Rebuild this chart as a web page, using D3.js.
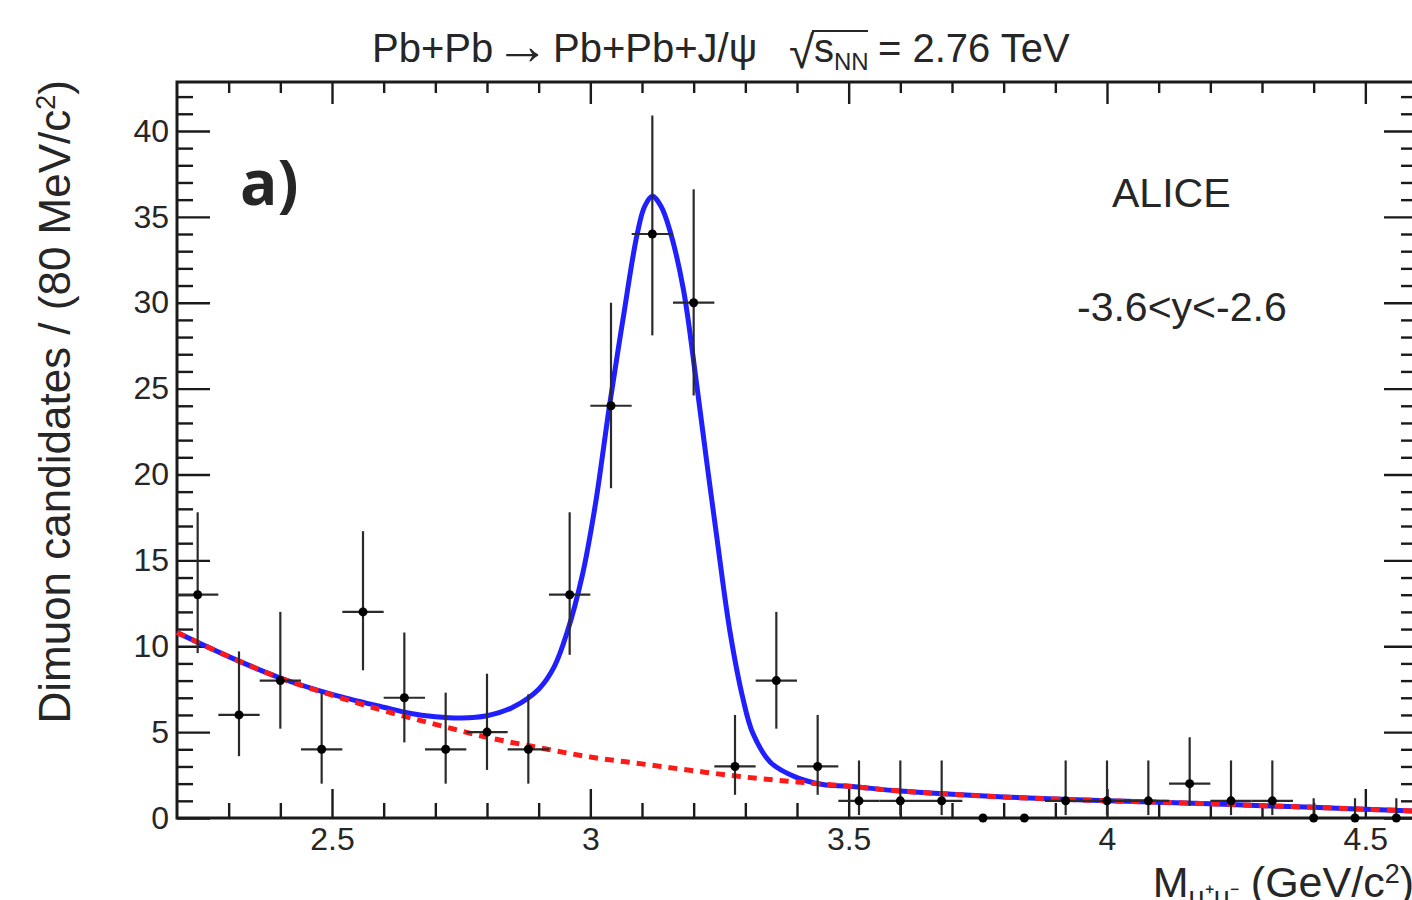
<!DOCTYPE html>
<html>
<head>
<meta charset="utf-8">
<script src="https://cdn.jsdelivr.net/npm/d3@7"></script>
<style>
	body { margin: 0; background: #fff; }
	svg text { font-family: "Liberation Sans", Arial, sans-serif; fill: #262626; }
</style>
</head>
<body>
<svg id="chart" width="1412" height="900"></svg>
<script>
// dimuon invariant mass histogram, 80 MeV bins
const binCenters = [2.24, 2.32, 2.40, 2.48, 2.56, 2.64, 2.72, 2.80, 2.88, 2.96,
                    3.04, 3.12, 3.20, 3.28, 3.36, 3.44, 3.52, 3.60, 3.68, 3.76,
                    3.84, 3.92, 4.00, 4.08, 4.16, 4.24, 4.32, 4.40, 4.48, 4.56];
const counts    = [13, 6, 8, 4, 12, 7, 4, 5, 4, 13,
                   24, 34, 30, 3, 8, 3, 1, 1, 1, 0,
                   0, 1, 1, 1, 2, 1, 1, 0, 0, 0];
const errLow    = [9.6, 3.6, 5.2, 2.0, 8.6, 4.4, 2.0, 2.8, 2.0, 9.5,
                   19.2, 28.1, 24.6, 1.35, 5.2, 1.35, 0.17, 0.17, 0.17, 0,
                   0, 0.17, 0.17, 0.17, 0.7, 0.17, 0.17, 0, 0, 0];
const errHigh   = [17.8, 9.7, 12.0, 7.3, 16.7, 10.8, 7.3, 8.4, 7.2, 17.8,
                   30.0, 40.9, 36.6, 6.0, 12.0, 6.0, 3.35, 3.35, 3.35, 0,
                   0, 3.35, 3.35, 3.35, 4.7, 3.35, 3.35, 1.15, 1.15, 1.15];
const binHalfWidth = 0.04;

// background fit (red dotted)
const bkgMass  = [2.20, 2.30, 2.40, 2.50, 2.60, 2.70, 2.80, 2.90, 3.00, 3.10, 3.20, 3.30, 3.40,
                  3.50, 3.60, 3.70, 3.80, 3.90, 4.00, 4.10, 4.20, 4.30, 4.40, 4.50, 4.60];
const bkgValue = [10.8, 9.4, 8.15, 7.15, 6.25, 5.45, 4.7, 4.1, 3.55, 3.15, 2.75, 2.38, 2.1,
                  1.85, 1.57, 1.38, 1.22, 1.1, 1.0, 0.92, 0.83, 0.72, 0.62, 0.51, 0.4];

// total fit (blue)
const fitMass  = [2.20, 2.30, 2.40, 2.50, 2.60, 2.65, 2.70, 2.75, 2.80, 2.85, 2.90, 2.93, 2.955,
                  2.985, 3.01, 3.037, 3.063, 3.09, 3.105, 3.12, 3.137, 3.154, 3.18, 3.206, 3.225,
                  3.245, 3.27, 3.295, 3.315, 3.35, 3.40, 3.45, 3.50, 3.60, 3.70, 3.80, 3.90,
                  4.00, 4.10, 4.20, 4.30, 4.40, 4.50, 4.60];
const fitValue = [10.8, 9.4, 8.15, 7.2, 6.45, 6.1, 5.9, 5.82, 5.95, 6.45, 7.5, 8.8, 10.8,
                  14.2, 18.3, 24.0, 29.0, 33.9, 35.6, 36.2, 35.6, 34.2, 30.8, 25.2, 20.8,
                  16.3, 10.9, 7.0, 4.9, 3.2, 2.35, 1.95, 1.85, 1.57, 1.38, 1.22, 1.1,
                  1.0, 0.92, 0.83, 0.72, 0.62, 0.51, 0.4];

const xMajorTicks = [2.5, 3, 3.5, 4, 4.5];
const xMinorTicks = [2.3, 2.4, 2.6, 2.7, 2.8, 2.9, 3.1, 3.2, 3.3, 3.4, 3.6, 3.7, 3.8, 3.9,
                     4.1, 4.2, 4.3, 4.4, 4.6];
const yMajorTicks = [0, 5, 10, 15, 20, 25, 30, 35, 40];
const yMinorTicks = d3.range(1, 43).filter(v => v % 5 !== 0);

const svg = d3.select("#chart");
const frame = { left: 177, right: 1417, top: 82, bottom: 818 };

const xScale = d3.scaleLinear().domain([2.2, 4.6]).range([frame.left, frame.right]);
const yScale = d3.scaleLinear().domain([0, 42.85]).range([frame.bottom, frame.top]);

function drawAxes() {
	const g = svg.append("g").attr("class", "axes");

	const bottom = g.append("g").attr("transform", `translate(0, ${frame.bottom})`);
	bottom.call(d3.axisBottom(xScale).tickValues(xMajorTicks).tickSize(-29).tickPadding(9)
	              .tickFormat(d3.format("")));
	bottom.append("g").call(d3.axisBottom(xScale).tickValues(xMinorTicks).tickSize(-15).tickFormat(""));

	const top = g.append("g").attr("transform", `translate(0, ${frame.top})`);
	top.call(d3.axisTop(xScale).tickValues(xMajorTicks).tickSize(-22).tickFormat(""));
	top.append("g").call(d3.axisTop(xScale).tickValues(xMinorTicks).tickSize(-11).tickFormat(""));

	const left = g.append("g").attr("transform", `translate(${frame.left}, 0)`);
	left.call(d3.axisLeft(yScale).tickValues(yMajorTicks).tickSize(-33).tickPadding(8));
	left.append("g").call(d3.axisLeft(yScale).tickValues(yMinorTicks).tickSize(-16).tickFormat(""));

	const right = g.append("g").attr("transform", `translate(${frame.right}, 0)`);
	right.call(d3.axisRight(yScale).tickValues(yMajorTicks).tickSize(-33).tickFormat(""));
	right.append("g").call(d3.axisRight(yScale).tickValues(yMinorTicks).tickSize(-16).tickFormat(""));

	g.selectAll(".domain").remove();
	g.selectAll(".tick line").attr("stroke", "#1a1a1a").attr("stroke-width", 2.4);
	g.selectAll(".tick text").style("font-size", "32px").attr("fill", "#333");

	svg.append("rect")
	   .attr("x", frame.left).attr("y", frame.top)
	   .attr("width", frame.right - frame.left).attr("height", frame.bottom - frame.top)
	   .attr("fill", "none").attr("stroke", "#1a1a1a").attr("stroke-width", 3);
}

function drawCurves() {
	const line = d3.line()
	               .x(d => xScale(d[0]))
	               .y(d => yScale(d[1]))
	               .curve(d3.curveCatmullRom.alpha(0.5));

	svg.append("path")
	   .datum(fitMass.map((m, i) => [m, fitValue[i]]))
	   .attr("d", line)
	   .attr("fill", "none")
	   .attr("stroke", "#1f1fff")
	   .attr("stroke-width", 5);

	svg.append("path")
	   .datum(bkgMass.map((m, i) => [m, bkgValue[i]]))
	   .attr("d", line)
	   .attr("fill", "none")
	   .attr("stroke", "#ff1a1a")
	   .attr("stroke-width", 5)
	   .attr("stroke-dasharray", "9 7");
}

function drawPoints() {
	const data = binCenters.map((m, i) => ({ m, n: counts[i], lo: errLow[i], hi: errHigh[i] }));
	const g = svg.append("g").attr("class", "points");

	g.selectAll("line.ey")
	 .data(data.filter(d => d.hi > 0))
	 .enter().append("line")
	 .attr("class", "ey")
	 .attr("x1", d => xScale(d.m)).attr("x2", d => xScale(d.m))
	 .attr("y1", d => yScale(d.lo)).attr("y2", d => yScale(d.hi))
	 .attr("stroke", "#2a2a2a").attr("stroke-width", 2.2);

	g.selectAll("line.ex")
	 .data(data.filter(d => d.n > 0))
	 .enter().append("line")
	 .attr("class", "ex")
	 .attr("x1", d => xScale(d.m - binHalfWidth)).attr("x2", d => xScale(d.m + binHalfWidth))
	 .attr("y1", d => yScale(d.n)).attr("y2", d => yScale(d.n))
	 .attr("stroke", "#2a2a2a").attr("stroke-width", 2.2);

	g.selectAll("circle")
	 .data(data)
	 .enter().append("circle")
	 .attr("cx", d => xScale(d.m)).attr("cy", d => yScale(d.n))
	 .attr("r", 4.5)
	 .attr("fill", "#000");
}

function drawTexts() {
	// title
	const t = svg.append("text").attr("x", 372).attr("y", 62).style("font-size", "40px");
	t.append("tspan").text("Pb+Pb");
	t.append("tspan").attr("dx", 2).style("font-size", "54px").attr("dy", 2).text("\u2192");
	t.append("tspan").attr("x", 553).attr("dy", -2).text("Pb+Pb+J/\u03c8");
	svg.append("text").attr("x", 789).attr("y", 68).style("font-size", "46px").text("\u221a");
	const s = svg.append("text").attr("x", 814).attr("y", 62).style("font-size", "40px");
	s.append("tspan").text("s");
	s.append("tspan").attr("dy", 8).style("font-size", "24px").text("NN");
	svg.append("line").attr("x1", 812).attr("x2", 868).attr("y1", 31).attr("y2", 31)
	   .attr("stroke", "#262626").attr("stroke-width", 2);
	svg.append("text").attr("x", 878).attr("y", 62).style("font-size", "40px").text("= 2.76 TeV");

	// panel label
	svg.append("text").attr("x", 240).attr("y", 205)
	   .style("font-family", "'Open Sans', 'Noto Sans', sans-serif")
	   .style("font-weight", "bold").style("font-size", "62px").attr("fill", "#000")
	   .text("a)");

	svg.append("text").attr("x", 1112).attr("y", 207).style("font-size", "41px").text("ALICE");
	svg.append("text").attr("x", 1077).attr("y", 321).style("font-size", "41px").text("-3.6<y<-2.6");

	// y title
	const yt = svg.append("text")
	              .attr("transform", `translate(70, ${frame.top - 2}) rotate(-90)`)
	              .attr("text-anchor", "end")
	              .style("font-size", "44px");
	yt.append("tspan").text("Dimuon candidates / (80 MeV/c");
	yt.append("tspan").attr("dy", -15).style("font-size", "27px").text("2");
	yt.append("tspan").attr("dy", 15).text(")");

	// x title
	const xt = svg.append("text")
	              .attr("x", frame.right - 3).attr("y", 897)
	              .attr("text-anchor", "end")
	              .style("font-size", "43px");
	xt.append("tspan").text("M");
	xt.append("tspan").attr("dy", 9).style("font-size", "28px").text("\u03bc\u207a\u03bc\u207b");
	xt.append("tspan").attr("dy", -9).text(" (GeV/c");
	xt.append("tspan").attr("dy", -14).style("font-size", "27px").text("2");
	xt.append("tspan").attr("dy", 14).text(")");
}

drawAxes();
drawCurves();
drawPoints();
drawTexts();
</script>
</body>
</html>
